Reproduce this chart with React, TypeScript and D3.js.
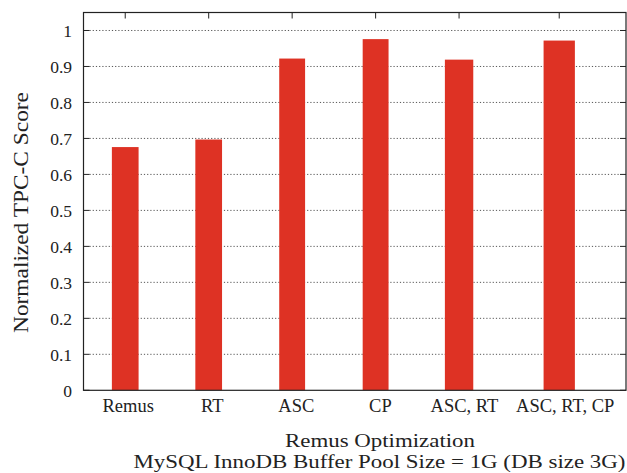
import React from "react";
import * as d3 from "d3";

const categories = ["Remus", "RT", "ASC", "CP", "ASC, RT", "ASC, RT, CP"];
const positions = [1, 2, 3, 4, 5, 6.2];
const scores = [0.676, 0.697, 0.922, 0.976, 0.919, 0.972];
const barWidths = [0.32, 0.32, 0.31, 0.31, 0.34, 0.375];
const yTicks = [0, 0.1, 0.2, 0.3, 0.4, 0.5, 0.6, 0.7, 0.8, 0.9, 1];
const yTickLabels = ["0", "0.1", "0.2", "0.3", "0.4", "0.5", "0.6", "0.7", "0.8", "0.9", "1"];

const W = 627, H = 473;
const left = 83.5, right = 626, top = 12.5, bottom = 390.3;
const font = "'Liberation Serif', 'Times New Roman', serif";

export default function App() {
  const x = d3.scaleLinear().domain([0.5, 7.0]).range([left, right]);
  const y = d3.scaleLinear().domain([0, 1.05]).range([bottom, top]);
  const color = "#de3224";
  return (
    <svg width={W} height={H} style={{ position: "absolute", left: 0, top: 0 }}>
      <rect width={W} height={H} fill="#fff" />
      {yTicks.map((t, i) => (
        <g key={i}>
          {t > 0 && (
            <line x1={left + 6} x2={right - 6} y1={y(t)} y2={y(t)} stroke="#444" strokeWidth={0.9} strokeDasharray="1.2,2" />
          )}
          <line x1={left} x2={left + 6} y1={y(t)} y2={y(t)} stroke="#222" strokeWidth={1} />
          <line x1={right - 6} x2={right} y1={y(t)} y2={y(t)} stroke="#222" strokeWidth={1} />
          <text x={72} y={y(t)} dy="0.36em" textAnchor="end" fontFamily={font} fontSize={17.5} fill="#222">
            {yTickLabels[i]}
          </text>
        </g>
      ))}
      {categories.map((c, i) => {
        const bw = x(positions[i] + barWidths[i] / 2) - x(positions[i] - barWidths[i] / 2);
        return (
          <g key={c}>
            <rect x={x(positions[i]) - bw / 2} y={y(scores[i])} width={bw} height={bottom - y(scores[i])} fill={color} />
            <line x1={x(positions[i])} x2={x(positions[i])} y1={top} y2={top + 6} stroke="#222" strokeWidth={1} />
            <text x={x(positions[i])} dx={3 + i * 0.6} y={411.5} textAnchor="middle" fontFamily={font} fontSize={18.5} fill="#222">
              {c}
            </text>
          </g>
        );
      })}
      <rect x={left} y={top} width={right - left} height={bottom - top} fill="none" stroke="#222" strokeWidth={1.2} />
      <text transform={`translate(28,212.5) rotate(-90)`} textAnchor="middle" fontFamily={font} fontSize={20}
        textLength={241} lengthAdjust="spacingAndGlyphs" fill="#222">
        Normalized TPC-C Score
      </text>
      <text x={380} y={446.5} textAnchor="middle" fontFamily={font} fontSize={18.5}
        textLength={190} lengthAdjust="spacingAndGlyphs" fill="#222">
        Remus Optimization
      </text>
      <text x={379.5} y={468} textAnchor="middle" fontFamily={font} fontSize={18.5}
        textLength={492} lengthAdjust="spacingAndGlyphs" fill="#222">
        MySQL InnoDB Buffer Pool Size = 1G (DB size 3G)
      </text>
    </svg>
  );
}
